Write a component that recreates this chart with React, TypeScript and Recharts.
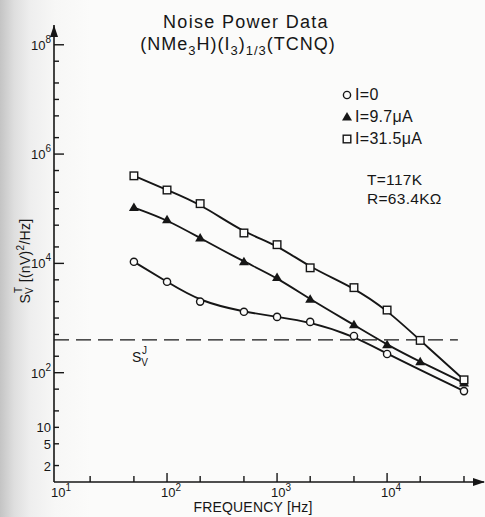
import React from 'react';
import { ComposedChart, Line, XAxis, YAxis, ReferenceLine, ReferenceDot, Customized } from 'recharts';

// ---- data ----
const frequencies = [50, 100, 200, 500, 1000, 2000, 5000, 10000, 20000, 50000];
const seriesI0 = [10700, 4600, 2000, 1300, 1050, 850, 470, 220, null, 46];
const seriesI97 = [105000, 63000, 29000, 10700, 5500, 2200, 750, 324, 158, 65];
const seriesI315 = [400000, 220000, 124000, 36000, 22000, 8300, 3600, 1400, 390, 74];
const johnsonLevel = 400;
const johnsonEnd = 44000;

const xTicks = [10, 20, 50, 100, 200, 500, 1000, 2000, 5000, 10000, 20000, 50000];
const yTicks = [2, 5, 10, 20, 50, 100, 200, 500, 1e3, 2e3, 5e3, 1e4, 2e4, 5e4, 1e5, 2e5, 5e5, 1e6, 2e6, 5e6, 1e7, 2e7, 5e7, 1e8];
const xTickLabels: Record<number, string> = { 10: '1', 100: '2', 1000: '3', 10000: '4' };
const yTickLabels: Record<number, [string, string]> = {
  2: ['2', ''], 5: ['5', ''], 10: ['10', ''], 100: ['10', '2'], 1e4: ['10', '4'], 1e6: ['10', '6'], 1e8: ['10', '8'],
};
const legendLabels = ['I=0', 'I=9.7\u03bcA', 'I=31.5\u03bcA'];
const titleLine1 = 'Noise Power Data';
const conditions = ['T=117K', 'R=63.4K\u03a9'];

const xDomain = [9.39, 76000];
const yDomain = [1, 2.3e8];

const data = frequencies.map((f, i) => ({ f, i0: seriesI0[i], i97: seriesI97[i], i315: seriesI315[i] }));

const INK = '#161616';
const PAPER = '#fbfbfa';
const FONT = '"Liberation Sans", Arial, sans-serif';

// ---- markers ----
const circleMark = (cx: number, cy: number, key?: any) => (
  <circle key={key} cx={cx} cy={cy} r={3.6} fill={PAPER} stroke={INK} strokeWidth={1.4} />
);
const triMark = (cx: number, cy: number, key?: any) => (
  <polygon key={key} points={`${cx},${cy - 5} ${cx - 5},${cy + 3.5} ${cx + 5},${cy + 3.5}`} fill={INK} />
);
const squareMark = (cx: number, cy: number, key?: any) => (
  <rect key={key} x={cx - 3.8} y={cy - 3.8} width={7.6} height={7.6} fill={PAPER} stroke={INK} strokeWidth={1.4} />
);

const makeDot = (fn: (cx: number, cy: number, key?: any) => any) => (p: any) => {
  if (p.value == null || p.cx == null || p.cy == null) return <g key={p.key} />;
  return fn(p.cx, p.cy, p.key);
};

// ---- ticks ----
const XTick = (props: any) => {
  const { x, y, payload } = props;
  const v = payload.value;
  const exp = xTickLabels[v];
  const major = exp !== undefined;
  return (
    <g>
      {v !== 10 && <line x1={x} x2={x} y1={y} y2={y - (major ? 9 : 6)} stroke={INK} strokeWidth={1.4} />}
      {major && (
        <text x={x - 6} y={y + 15} fontSize={13} fill={INK} fontFamily={FONT}>
          10<tspan dy={-6} fontSize={10}>{exp}</tspan>
        </text>
      )}
    </g>
  );
};

const YTick = (props: any) => {
  const { x, y, payload } = props;
  const v = payload.value;
  const lab = yTickLabels[v];
  const major = lab !== undefined && lab[1] !== '';
  return (
    <g>
      <line x1={x} x2={x + (major ? 10 : 5)} y1={y} y2={y} stroke={INK} strokeWidth={1.4} />
      {lab && (
        <text x={x - 3} y={y + 5} fontSize={13} fill={INK} fontFamily={FONT} textAnchor="end">
          {lab[0]}
          {lab[1] && <tspan dy={-7} fontSize={10}>{lab[1]}</tspan>}
        </text>
      )}
    </g>
  );
};

// ---- annotations ----
const Annotations = () => (
  <g fontFamily={FONT} fill={INK}>
    <text x={246} y={28} fontSize={18} textAnchor="middle" letterSpacing={1.3}>{titleLine1}</text>
    <text x={238} y={50} fontSize={18} textAnchor="middle" letterSpacing={1}>
      (NMe<tspan dy={5} fontSize={13}>3</tspan>
      <tspan dy={-5}>H)(I</tspan>
      <tspan dy={5} fontSize={13}>3</tspan>
      <tspan dy={-5}>)</tspan>
      <tspan dy={5} fontSize={13}>1/3</tspan>
      <tspan dy={-5}>(TCNQ)</tspan>
    </text>
    {circleMark(347, 95)}
    {triMark(347, 117)}
    {squareMark(347, 139)}
    {legendLabels.map((t, i) => (
      <text key={t} x={355} y={100 + i * 22} fontSize={16} letterSpacing={0.3}>{t}</text>
    ))}
    {conditions.map((t, i) => (
      <text key={t} x={367} y={185 + i * 19} fontSize={15.5} letterSpacing={0.3}>{t}</text>
    ))}
    <text x={132} y={362} fontSize={14}>
      S<tspan dy={4} fontSize={10}>V</tspan>
      <tspan dx={-6} dy={-12} fontSize={10}>J</tspan>
    </text>
    <text transform="translate(30,261) rotate(-90)" x={0} y={0} fontSize={14} textAnchor="middle" letterSpacing={0.3}>
      S<tspan dy={3} fontSize={10}>V</tspan>
      <tspan dx={-6} dy={-11} fontSize={10}>T</tspan>
      <tspan dy={8}>{'  [(nV)'}</tspan>
      <tspan dy={-6} fontSize={10}>2</tspan>
      <tspan dy={6}>/Hz]</tspan>
    </text>
    <text x={253} y={512} fontSize={14} textAnchor="middle" letterSpacing={0.2}>FREQUENCY [Hz]</text>
  </g>
);

const xArrow = (p: any) => (
  <polygon points={`${p.cx + 1},${p.cy} ${p.cx - 11},${p.cy - 4} ${p.cx - 11},${p.cy + 4}`} fill={INK} />
);
const yArrow = (p: any) => (
  <polygon points={`${p.cx},${p.cy} ${p.cx - 4},${p.cy + 12} ${p.cx + 4},${p.cy + 12}`} fill={INK} />
);

export default function App() {
  return (
    <div
      style={{
        position: 'absolute',
        left: 0,
        top: 0,
        width: 485,
        height: 517,
        background: 'linear-gradient(to right, #c4c4c4 0px, #dedede 14px, #eeeeee 30px, #f7f7f6 55px, #fbfbfa 90px)',
      }}
    >
      <ComposedChart width={485} height={517} data={data} margin={{ top: 25, right: 1, bottom: 0, left: 0 }}>
        <XAxis
          type="number"
          dataKey="f"
          scale="log"
          domain={xDomain}
          allowDataOverflow
          ticks={xTicks}
          tick={<XTick />}
          tickLine={false}
          tickSize={0}
          tickMargin={0}
          height={35}
          axisLine={{ stroke: INK, strokeWidth: 1.6 }}
          interval={0}
        />
        <YAxis
          type="number"
          scale="log"
          domain={yDomain}
          allowDataOverflow
          ticks={yTicks}
          tick={<YTick />}
          tickLine={false}
          tickSize={0}
          tickMargin={0}
          width={54}
          axisLine={{ stroke: INK, strokeWidth: 1.6 }}
          interval={0}
        />
        <ReferenceLine
          segment={[{ x: xDomain[0], y: johnsonLevel }, { x: johnsonEnd, y: johnsonLevel }]}
          stroke={INK}
          strokeWidth={1.3}
          strokeDasharray="15 7"
          ifOverflow="visible"
        />
        <Line dataKey="i0" type="basis" stroke={INK} strokeWidth={1.9} connectNulls isAnimationActive={false} dot={makeDot(circleMark)} activeDot={false} />
        <Line dataKey="i97" type="basis" stroke={INK} strokeWidth={1.9} connectNulls isAnimationActive={false} dot={makeDot(triMark)} activeDot={false} />
        <Line dataKey="i315" type="basis" stroke={INK} strokeWidth={1.9} connectNulls isAnimationActive={false} dot={makeDot(squareMark)} activeDot={false} />
        <ReferenceDot x={xDomain[1]} y={yDomain[0]} ifOverflow="visible" shape={xArrow} />
        <ReferenceDot x={xDomain[0]} y={yDomain[1]} ifOverflow="visible" shape={yArrow} />
        <Customized component={Annotations} />
      </ComposedChart>
    </div>
  );
}
